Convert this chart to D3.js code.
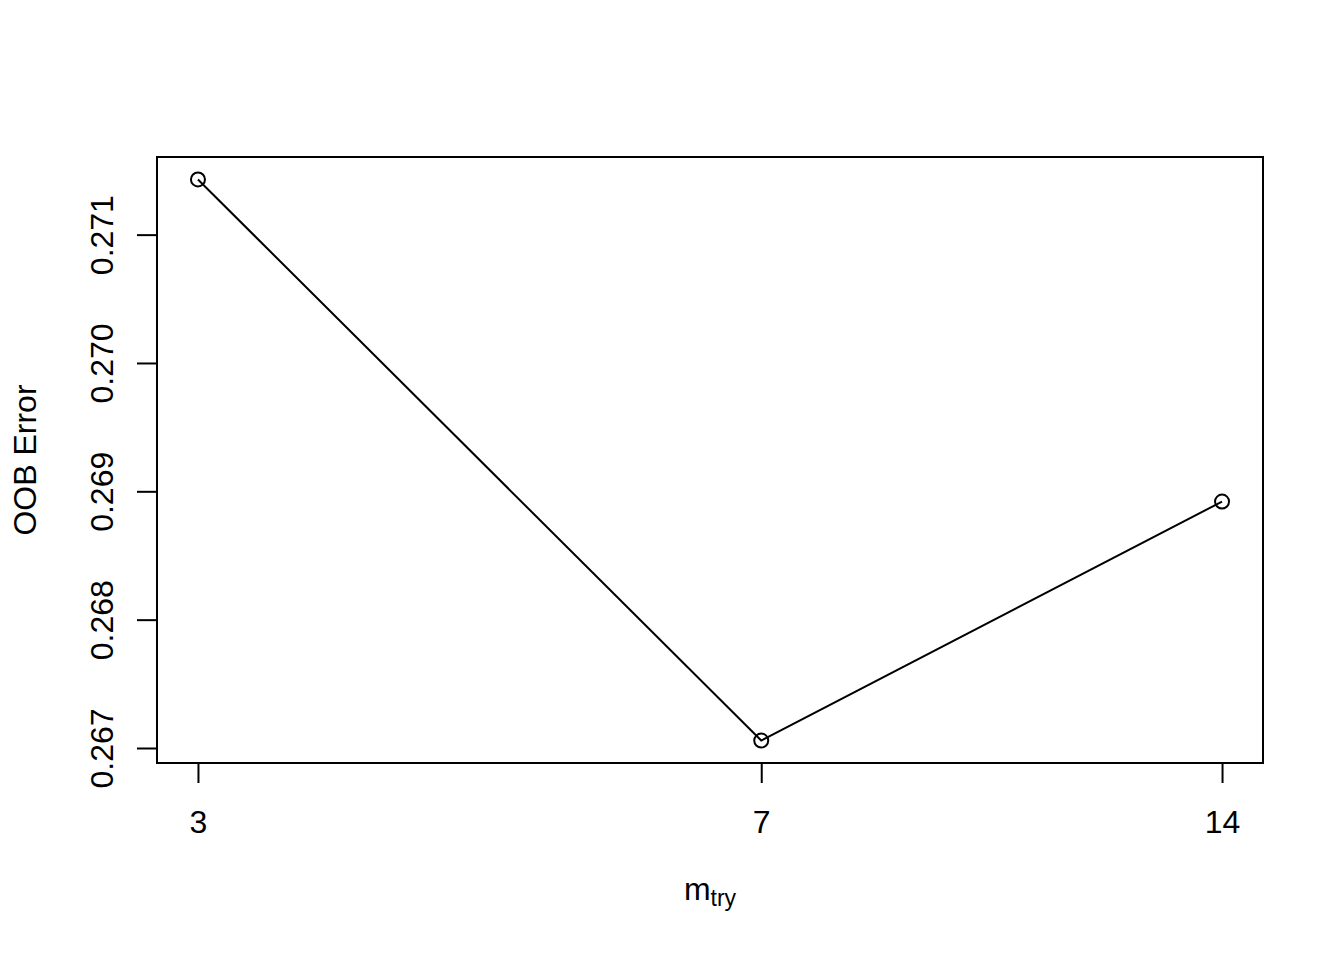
<!DOCTYPE html>
<html>
<head>
<meta charset="utf-8">
<script src="https://cdn.jsdelivr.net/npm/d3@7"></script>
<style>
  body { margin: 0; background: #fff; }
  text { font-family: "Liberation Sans", Arial, Helvetica, sans-serif; fill: #000; }
</style>
</head>
<body>
<svg id="chart"></svg>
<script>
const mtry = [3, 7, 14]
const oobError = [0.27143, 0.267058, 0.26892]
const yTicks = [0.267, 0.268, 0.269, 0.270, 0.271]

const width = 1344
const height = 960
const box = { left: 157, right: 1263, top: 157, bottom: 763 }

const svg = d3.select("#chart")
  .attr("width", width)
  .attr("height", height)

// R style: extend the range by 4% on each side (x in log space)
const lx = d3.extent(mtry, d => Math.log(d))
const lpad = (lx[1] - lx[0]) * 0.04
const x = d3.scaleLog()
  .domain([Math.exp(lx[0] - lpad), Math.exp(lx[1] + lpad)])
  .range([box.left, box.right])

const ey = d3.extent(oobError)
const ypad = (ey[1] - ey[0]) * 0.04
const y = d3.scaleLinear()
  .domain([ey[0] - ypad, ey[1] + ypad])
  .range([box.bottom, box.top])

// frame
svg.append("rect")
  .attr("x", box.left)
  .attr("y", box.top)
  .attr("width", box.right - box.left)
  .attr("height", box.bottom - box.top)
  .attr("fill", "none")
  .attr("stroke", "#000")
  .attr("stroke-width", 2)

// x axis
const xAxis = d3.axisBottom(x)
  .tickValues(mtry)
  .tickFormat(d3.format("d"))
  .tickSize(20)

const gx = svg.append("g")
  .attr("transform", `translate(0,${box.bottom})`)
  .call(xAxis)
gx.select(".domain").remove()
gx.selectAll(".tick line").attr("stroke", "#000").attr("stroke-width", 2)
gx.selectAll(".tick text")
  .attr("font-size", 32)
  .attr("font-family", "Liberation Sans, Arial, sans-serif")
  .attr("dy", null)
  .attr("y", 70)

// y axis
const yAxis = d3.axisLeft(y)
  .tickValues(yTicks)
  .tickFormat(d3.format(".3f"))
  .tickSize(20)

const gy = svg.append("g")
  .attr("transform", `translate(${box.left},0)`)
  .call(yAxis)
gy.select(".domain")
  .attr("d", `M0,${y(yTicks[0])}V${y(yTicks[yTicks.length - 1])}`)
  .attr("stroke", "#000")
  .attr("stroke-width", 2)
gy.selectAll(".tick line").attr("stroke", "#000").attr("stroke-width", 2)
gy.selectAll(".tick text")
  .attr("font-size", 32)
  .attr("font-family", "Liberation Sans, Arial, sans-serif")
  .attr("x", null)
  .attr("dy", null)
  .attr("text-anchor", "middle")
  .attr("transform", "translate(-44,0) rotate(-90)")

// line + open points
const line = d3.line()
  .x((d, i) => x(mtry[i]))
  .y(d => y(d))

svg.append("path")
  .datum(oobError)
  .attr("d", line)
  .attr("fill", "none")
  .attr("stroke", "#000")
  .attr("stroke-width", 2)

svg.append("g")
  .selectAll("circle")
  .data(oobError)
  .enter().append("circle")
  .attr("cx", (d, i) => x(mtry[i]))
  .attr("cy", d => y(d))
  .attr("r", 7)
  .attr("fill", "none")
  .attr("stroke", "#000")
  .attr("stroke-width", 2)

// axis titles
const xt = svg.append("text")
  .attr("x", (box.left + box.right) / 2)
  .attr("y", 900)
  .attr("text-anchor", "middle")
  .attr("font-size", 32)
xt.append("tspan").text("m")
xt.append("tspan").attr("font-size", 23).attr("dy", 6).text("try")

svg.append("text")
  .attr("transform", `translate(36,${(box.top + box.bottom) / 2}) rotate(-90)`)
  .attr("text-anchor", "middle")
  .attr("font-size", 32)
  .text("OOB Error")
</script>
</body>
</html>
